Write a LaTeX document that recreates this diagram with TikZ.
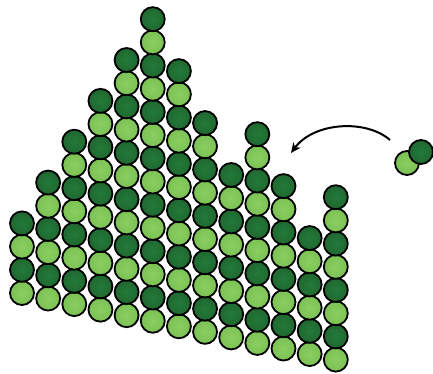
\documentclass[tikz,border=0pt]{standalone}
\usetikzlibrary{arrows.meta}
\definecolor{dkin}{RGB}{34,122,56}
\definecolor{dkout}{RGB}{28,76,36}
\definecolor{ltin}{RGB}{138,206,96}
\definecolor{ltout}{RGB}{92,168,62}
\pgfdeclareradialshading{darkball}{\pgfpoint{0bp}{0bp}}{color(0bp)=(dkin); color(22bp)=(dkin!65!dkout); color(50bp)=(dkout)}
\pgfdeclareradialshading{lightball}{\pgfpoint{0bp}{0bp}}{color(0bp)=(ltin); color(22bp)=(ltin!70!ltout); color(50bp)=(ltout)}
\begin{document}
\begin{tikzpicture}[x=1pt,y=-1pt,
  ball/.style={circle, draw=black, line width=1.8pt, minimum size=24pt, inner sep=0pt},
  darkb/.style={ball, shading=darkball},
  lightb/.style={ball, shading=lightball},
  movearrow/.style={-{Stealth[length=10pt,width=9pt,inset=3pt]}, line width=2pt}]
\useasboundingbox (0,0) rectangle (433,374);
\foreach \i/\n in {1/4,2/6,3/8,4/10,5/12,6/14,7/12,8/10,9/8,10/10,11/8,12/6,13/8}{
  \pgfmathtruncatemacro{\lastj}{\n-1}
  \foreach \j in {0,...,\lastj}{
    \pgfmathsetmacro{\xx}{22+26.15*(\i-1)}
    \pgfmathsetmacro{\yy}{293+5.55*(\i-1)-23.2*\j}
    \pgfmathtruncatemacro{\parity}{mod(\j,2)}
    \ifnum\parity=0
      \node[lightb] (c\i-\j) at (\xx,\yy) {};
    \else
      \node[darkb] (c\i-\j) at (\xx,\yy) {};
    \fi
  }
}
\node[lightb] (pl) at (407,163) {};
\node[darkb] (pd) at (421,152) {};
\coordinate (as) at (390,140);
\coordinate (ae) at (291,153);
\draw[movearrow] (as) .. controls (366,119) and (314,122) .. (ae);
\end{tikzpicture}
\end{document}
